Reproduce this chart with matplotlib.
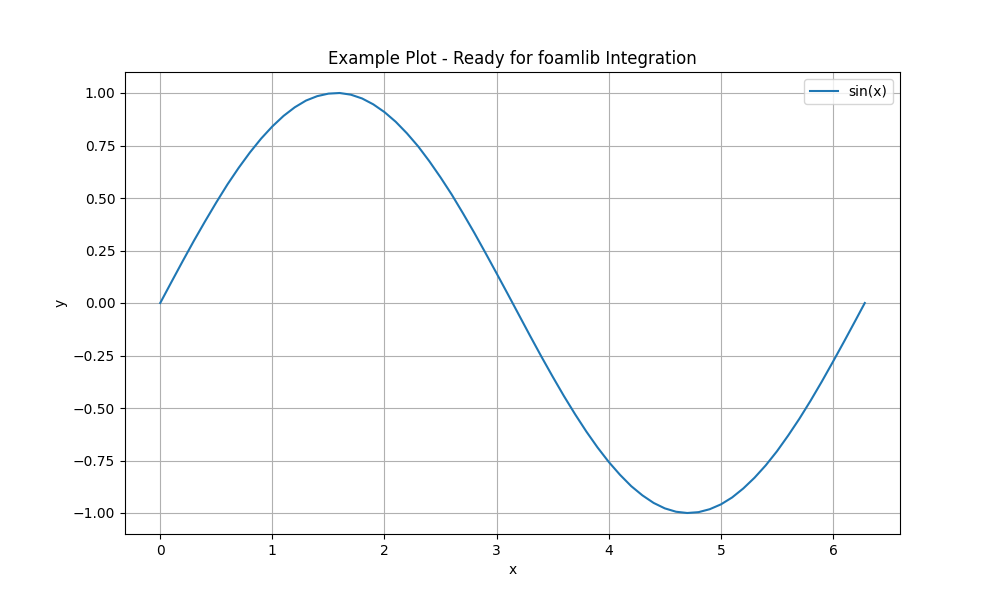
import matplotlib
matplotlib.use("Agg")
import matplotlib.pyplot as plt

x_values = [0.0, 0.1, 0.2, 0.3, 0.4, 0.5, 0.6, 0.7, 0.8, 0.9,
            1.0, 1.1, 1.2, 1.3, 1.4, 1.5, 1.6, 1.7, 1.8, 1.9,
            2.0, 2.1, 2.2, 2.3, 2.4, 2.5, 2.6, 2.7, 2.8, 2.9,
            3.0, 3.1, 3.2, 3.3, 3.4, 3.5, 3.6, 3.7, 3.8, 3.9,
            4.0, 4.1, 4.2, 4.3, 4.4, 4.5, 4.6, 4.7, 4.8, 4.9,
            5.0, 5.1, 5.2, 5.3, 5.4, 5.5, 5.6, 5.7, 5.8, 5.9,
            6.0, 6.1, 6.2, 6.283]
y_values = [0.000, 0.100, 0.199, 0.296, 0.389, 0.479, 0.565, 0.644, 0.717, 0.783,
            0.841, 0.891, 0.932, 0.964, 0.985, 0.997, 1.000, 0.992, 0.974, 0.946,
            0.909, 0.863, 0.808, 0.746, 0.675, 0.598, 0.516, 0.427, 0.335, 0.239,
            0.141, 0.042, -0.058, -0.158, -0.256, -0.351, -0.443, -0.530, -0.612, -0.688,
            -0.757, -0.818, -0.872, -0.916, -0.952, -0.978, -0.994, -1.000, -0.996, -0.982,
            -0.959, -0.926, -0.883, -0.832, -0.773, -0.706, -0.631, -0.551, -0.465, -0.374,
            -0.279, -0.182, -0.083, 0.000]

fig, ax = plt.subplots(figsize=(10, 6), dpi=100)
ax.plot(x_values, y_values, label="sin(x)")
ax.set_title("Example Plot - Ready for foamlib Integration")
ax.set_xlabel("x")
ax.set_ylabel("y")
ax.grid(True)
ax.legend()
fig.savefig("out.png", dpi=100)
